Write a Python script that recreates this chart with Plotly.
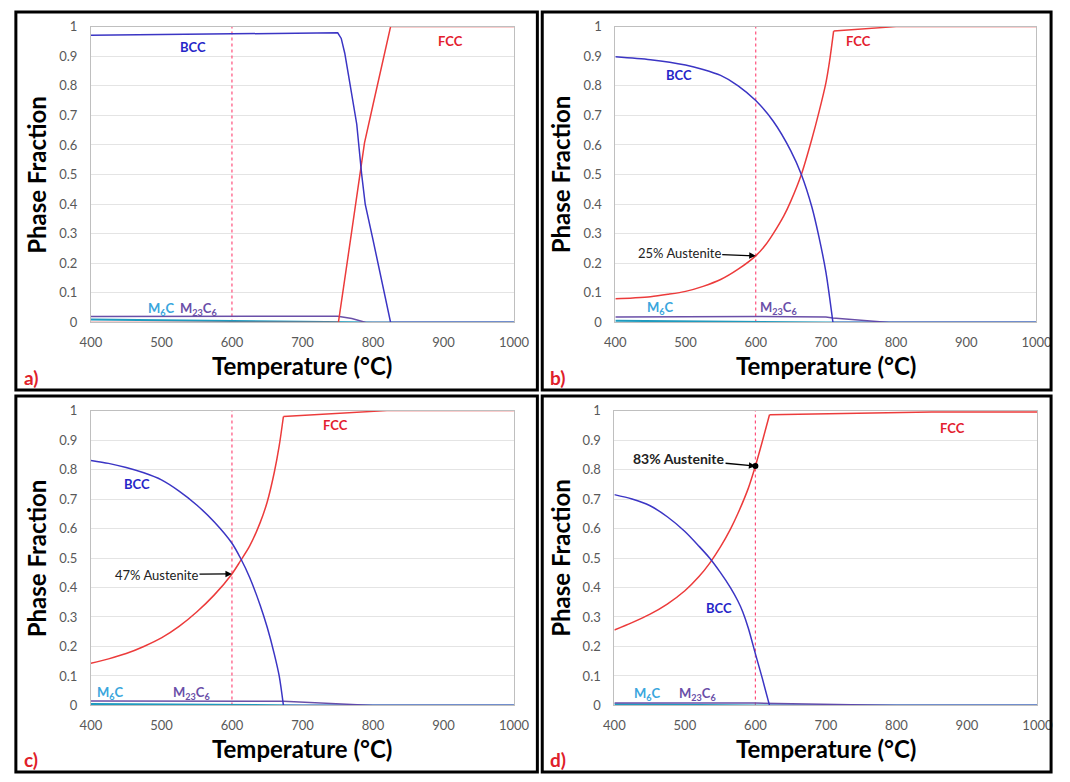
import plotly.graph_objects as go

W, H = 1070, 782

# ---------------- data ----------------
# Panel a
t_a_bcc = [400, 600, 750, 755, 760, 765, 771, 777, 784, 789, 800, 812, 825, 1000]
bcc_a = [0.971, 0.975, 0.979, 0.96, 0.91, 0.84, 0.76, 0.67, 0.50, 0.40, 0.28, 0.15, 0.0, 0.0]
t_a_fcc = [400, 751, 770, 788, 800, 812, 825, 1000]
fcc_a = [0.0, 0.0, 0.31, 0.607, 0.735, 0.862, 1.0, 1.0]
t_a_m23 = [400, 600, 750, 770, 790, 1000]
m23_a = [0.020, 0.021, 0.021, 0.013, 0.0, 0.0]
t_a_m6 = [400, 500, 600, 700, 800, 1000]
m6_a = [0.010, 0.007, 0.004, 0.002, 0.0, 0.0]

# Panel b
t_b_bcc = [400, 450, 500, 525, 550, 575, 600, 625, 650, 665, 680, 690, 700, 710, 1000]
bcc_b = [0.898, 0.888, 0.87, 0.855, 0.835, 0.80, 0.75, 0.68, 0.58, 0.50, 0.39, 0.29, 0.17, 0.0, 0.0]
t_b_fcc = [400, 425, 450, 475, 500, 525, 550, 575, 600, 615, 625, 640, 650, 665, 680, 690, 700, 705, 711, 800, 1000]
fcc_b = [0.08, 0.083, 0.087, 0.095, 0.105, 0.122, 0.145, 0.18, 0.225, 0.265, 0.30, 0.36, 0.41, 0.50, 0.62, 0.71, 0.81, 0.88, 0.985, 1.0, 1.0]
t_b_m23 = [400, 600, 700, 710, 790, 1000]
m23_b = [0.018, 0.020, 0.018, 0.015, 0.0, 0.0]
t_b_m6 = [400, 500, 600, 700, 1000]
m6_b = [0.006, 0.004, 0.002, 0.0, 0.0]

# Panel c
t_c_bcc = [400, 425, 450, 475, 500, 525, 550, 575, 600, 612, 625, 640, 650, 660, 667, 673, 1000]
bcc_c = [0.831, 0.821, 0.807, 0.789, 0.765, 0.727, 0.68, 0.622, 0.55, 0.50, 0.435, 0.34, 0.265, 0.175, 0.10, 0.0, 0.0]
t_c_fcc = [400, 425, 450, 475, 500, 525, 550, 575, 600, 612, 625, 640, 650, 660, 667, 673, 820, 1000]
fcc_c = [0.143, 0.158, 0.176, 0.20, 0.229, 0.268, 0.317, 0.375, 0.446, 0.49, 0.54, 0.62, 0.69, 0.79, 0.88, 0.98, 1.0, 1.0]
t_c_m23 = [400, 600, 673, 800, 1000]
m23_c = [0.015, 0.015, 0.014, 0.0, 0.0]
t_c_m6 = [400, 500, 600, 700, 1000]
m6_c = [0.005, 0.003, 0.001, 0.0, 0.0]

# Panel d
t_d_bcc = [400, 425, 450, 475, 500, 520, 535, 550, 565, 575, 582, 590, 600, 610, 620, 1000]
bcc_d = [0.715, 0.70, 0.678, 0.64, 0.59, 0.54, 0.50, 0.452, 0.398, 0.355, 0.318, 0.262, 0.175, 0.09, 0.0, 0.0]
t_d_fcc = [400, 425, 450, 475, 500, 520, 535, 550, 565, 575, 590, 600, 610, 620, 850, 1000]
fcc_d = [0.256, 0.281, 0.309, 0.344, 0.389, 0.437, 0.482, 0.536, 0.60, 0.65, 0.737, 0.812, 0.897, 0.986, 0.995, 0.995]
t_d_m23 = [400, 600, 800, 1000]
m23_d = [0.008, 0.008, 0.0, 0.0]
t_d_m6 = [400, 500, 600, 1000]
m6_d = [0.004, 0.002, 0.0, 0.0]

# temperature where the smooth (curved) part of BCC / FCC ends in each panel
smooth_end = [(None, None), (710, 711), (673, 673), (620, 620)]

x_ticks = [400, 500, 600, 700, 800, 900, 1000]
y_ticks = [0, 0.1, 0.2, 0.3, 0.4, 0.5, 0.6, 0.7, 0.8, 0.9, 1]
marker_T = 600
panel_labels = ["a)", "b)", "c)", "d)"]
austenite_notes = [None, ("25% Austenite", 0.225, 491, 0.235, False),
                   ("47% Austenite", 0.446, 493, 0.444, False),
                   ("83% Austenite", 0.812, 491, 0.836, True)]
# phase label positions (x, y) per panel: BCC, FCC, M6C, M23C6
label_pos = [
    [(545, 0.93), (910, 0.95), (500, 0.047), (552, 0.047)],
    [(490, 0.838), (747, 0.953), (465, 0.05), (633, 0.05)],
    [(466, 0.75), (747, 0.95), (428, 0.042), (543, 0.042)],
    [(548, 0.33), (880, 0.94), (447, 0.04), (518, 0.04)],
]

panels = [
    (t_a_bcc, bcc_a, t_a_fcc, fcc_a, t_a_m23, m23_a, t_a_m6, m6_a),
    (t_b_bcc, bcc_b, t_b_fcc, fcc_b, t_b_m23, m23_b, t_b_m6, m6_b),
    (t_c_bcc, bcc_c, t_c_fcc, fcc_c, t_c_m23, m23_c, t_c_m6, m6_c),
    (t_d_bcc, bcc_d, t_d_fcc, fcc_d, t_d_m23, m23_d, t_d_m6, m6_d),
]

# ---------------- layout geometry (pixels) ----------------
plot_px = [  # x0, x1, ytop, ybottom
    (82, 516, 19, 321),
    (620, 1052, 19, 321),
    (82, 516, 411, 712),
    (619, 1053, 411, 712),
]
border_px = [
    (5, 540, 4, 390),
    (545, 1067, 4, 390),
    (5, 540, 396, 780),
    (545, 1067, 396, 780),
]

BCC_C = "#3b35c4"
FCC_C = "#ec3b3b"
M23_C = "#6a4fa8"
M6_C = "#1f9bbf"
FONT = "Lato"

fig = go.Figure()
annotations = []
shapes = []


def add_series(t, v, color, end, xa, ya):
    if end is None:
        fig.add_trace(go.Scatter(x=t, y=v, mode="lines", line=dict(color=color, width=1.5),
                                 xaxis=xa, yaxis=ya, showlegend=False))
        return
    k = t.index(end)
    fig.add_trace(go.Scatter(x=t[:k + 1], y=v[:k + 1], mode="lines",
                             line=dict(color=color, width=1.5, shape="spline", smoothing=0.8),
                             xaxis=xa, yaxis=ya, showlegend=False))
    fig.add_trace(go.Scatter(x=t[k:], y=v[k:], mode="lines", line=dict(color=color, width=1.5),
                             xaxis=xa, yaxis=ya, showlegend=False))


for i, (tb, vb, tf, vf, tm, vm, t6, v6) in enumerate(panels):
    n = "" if i == 0 else str(i + 1)
    xa, ya = "x" + n, "y" + n
    fig.add_trace(go.Scatter(x=[marker_T, marker_T], y=[0, 1], mode="lines",
                             line=dict(color="#ff4f7b", width=1.2, dash="dot"),
                             xaxis=xa, yaxis=ya, showlegend=False))
    fig.add_trace(go.Scatter(x=t6, y=v6, mode="lines", line=dict(color=M6_C, width=2),
                             xaxis=xa, yaxis=ya, showlegend=False))
    fig.add_trace(go.Scatter(x=tm, y=vm, mode="lines", line=dict(color=M23_C, width=1.5),
                             xaxis=xa, yaxis=ya, showlegend=False))
    add_series(tf, vf, FCC_C, smooth_end[i][1], xa, ya)
    add_series(tb, vb, BCC_C, smooth_end[i][0], xa, ya)

    x0, x1, yt, yb = plot_px[i]
    tickfont = dict(family=FONT, size=13, color="#595959")
    fig.layout["xaxis" + n] = go.layout.XAxis(
        domain=[x0 / W, x1 / W], range=[400, 1000], tickvals=x_ticks, anchor=ya,
        ticklabelstandoff=8, showgrid=False, showline=True, linecolor="#bfbfbf",
        mirror=True, zeroline=False, ticks="", tickfont=tickfont)
    fig.layout["yaxis" + n] = go.layout.YAxis(
        domain=[1 - yb / H, 1 - yt / H], range=[0, 1], tickvals=y_ticks, anchor=xa,
        ticklabelstandoff=10, showgrid=True, gridcolor="#e4e4e4", showline=True,
        linecolor="#bfbfbf", mirror=True, zeroline=False, ticks="", tickfont=tickfont)

    # axis titles
    annotations.append(dict(text="<b>Phase Fraction</b>", xref="paper", yref="paper",
                            x=(x0 - 56) / W, y=1 - (yt + yb) / 2 / H, textangle=-90,
                            xanchor="center", yanchor="middle",
                            showarrow=False, font=dict(family=FONT, size=24, color="black")))
    annotations.append(dict(text="<b>Temperature (°C)</b>", xref="paper", yref="paper",
                            x=(x0 + x1) / 2 / W, y=1 - (yb + 44) / H,
                            xanchor="center", yanchor="middle",
                            showarrow=False, font=dict(family=FONT, size=24, color="black")))
    bx0, bx1, by0, by1 = border_px[i]
    annotations.append(dict(text="<b>" + panel_labels[i] + "</b>", xref="paper", yref="paper",
                            x=(bx0 + 6) / W, y=1 - (by1 - 13) / H, xanchor="left",
                            yanchor="middle",
                            showarrow=False, font=dict(family=FONT, size=19, color="#e0202a")))
    shapes.append(dict(type="rect", xref="paper", yref="paper",
                       x0=bx0 / W, x1=bx1 / W, y0=1 - by1 / H, y1=1 - by0 / H,
                       line=dict(color="black", width=3)))

    # phase labels
    lp = label_pos[i]
    for (txt, col), (lx, ly) in zip([("BCC", "#2626c8"), ("FCC", "#e3202e"),
                                     ("M<sub>6</sub>C", "#3aa6dd"),
                                     ("M<sub>23</sub>C<sub>6</sub>", "#6a4fa8")], lp):
        annotations.append(dict(text="<b>" + txt + "</b>", xref=xa, yref=ya, x=lx, y=ly,
                                showarrow=False, font=dict(family=FONT, size=13, color=col)))

    note = austenite_notes[i]
    if note:
        txt, py, tx, ty, bold = note
        annotations.append(dict(text=("<b>%s</b>" % txt) if bold else txt,
                                xref=xa, yref=ya, x=marker_T, y=py, axref=xa, ayref=ya,
                                ax=tx, ay=ty, showarrow=True, arrowhead=2, arrowsize=1,
                                arrowwidth=1.3, arrowcolor="black",
                                font=dict(family=FONT, size=14 if bold else 13, color="#222")))
        if bold:
            fig.add_trace(go.Scatter(x=[marker_T], y=[py], mode="markers",
                                     marker=dict(color="black", size=6),
                                     xaxis=xa, yaxis=ya, showlegend=False))

fig.update_layout(width=W, height=H, margin=dict(l=0, r=0, t=0, b=0),
                  paper_bgcolor="white", plot_bgcolor="white",
                  annotations=annotations, shapes=shapes, showlegend=False)

fig.write_html("out.html")
